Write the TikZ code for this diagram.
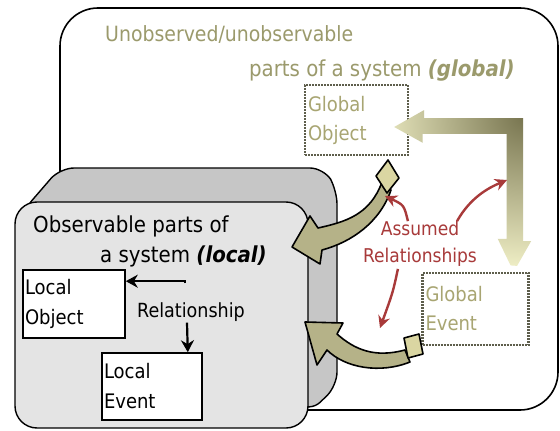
\documentclass[tikz,border=0pt]{standalone}
\usepackage{fontspec}
\setmainfont{DejaVuSansCondensed}[Extension=.ttf, BoldFont=*-Bold, ItalicFont=*-Oblique, BoldItalicFont=*-BoldOblique]
\usetikzlibrary{arrows.meta,calc}
\definecolor{backgray}{HTML}{C6C6C6}
\definecolor{frontgray}{HTML}{E4E4E4}
\definecolor{globtext}{HTML}{9B9A6C}
\definecolor{boxtext}{HTML}{A8A572}
\definecolor{dotgray}{HTML}{5E5E4C}
\definecolor{asmred}{HTML}{A83A3A}
\definecolor{arrowlight}{HTML}{EEEDC4}
\definecolor{arrowdark}{HTML}{77744F}
\definecolor{curvyfill}{HTML}{B5B288}
\definecolor{tailfill}{HTML}{DAD6A2}
\begin{document}
\begin{tikzpicture}[
        x=1pt, y=-1pt,
        % 外框與灰色方塊
        outerbox/.style={draw=black, line width=1.6pt, fill=white, rounded corners=38pt},
        backface/.style={draw=black, line width=1.4pt, fill=backgray, rounded corners=14pt},
        frontface/.style={draw=black, line width=1.4pt, fill=frontgray, rounded corners=22pt},
        % 方框樣式
        localbox/.style={
            draw=black,
            line width=1.6pt,
            fill=white,
            inner sep=2pt,
            align=left,
            font=\fontsize{20}{30}\selectfont
        },
        globalbox/.style={
            draw=dotgray,
            line width=2.4pt,
            dash pattern=on 2pt off 1pt,
            fill=white,
            text=boxtext,
            inner sep=3pt,
            align=left,
            font=\fontsize{20}{29}\selectfont
        },
        % 文字樣式
        bigtext/.style={anchor=base west, inner sep=0pt, font=\fontsize{22}{26}\selectfont},
        % 箭頭樣式
        relarrow/.style={draw=black, line width=2.2pt, -{Stealth[length=12pt,width=13pt]}},
        asmarrow/.style={draw=asmred, line width=2.4pt, -{Stealth[length=12pt,width=12pt]}},
        curvy/.style={draw=black, line width=1.6pt, fill=curvyfill, line join=round},
        curvytail/.style={draw=black, line width=1.6pt, fill=tailfill, line join=round}
    ]
    \useasboundingbox (0,0) rectangle (560,431);

    % --- 外框 (global) ---
    \draw[outerbox] (60,8) rectangle (558,410);
    \node[bigtext, text=globtext, font=\fontsize{21}{26}\selectfont] (title1) at (105,41) {Unobserved/unobservable};
    \node[bigtext, anchor=base east, text=globtext] (title2) at (515,76) {parts of a system \textbf{\textit{(global)}}};

    % --- 灰色方塊 (local) ---
    \draw[backface] (22,212) -- (60,168) -- (324,168) -- (337,190) -- (337,386) -- (310,412) -- cycle;
    \draw[frontface] (15,202) rectangle (308,428);
    \node[bigtext] (obs1) at (33,232) {Observable parts of};
    \node[bigtext, anchor=base east] (obs2) at (267,262) {a system \textbf{\textit{(local)}}};

    % --- 節點 ---
    \node[localbox, minimum width=102pt, minimum height=68pt, text width=98pt] (lobj) at (74,304) {Local\\Object};
    \node[localbox, minimum width=100pt, minimum height=67pt, text width=96pt] (levt) at (152,386.5) {Local\\Event};
    \node[globalbox, minimum width=103pt, minimum height=70pt, text width=97pt] (gobj) at (356.5,120) {Global\\Object};
    \node[globalbox, minimum width=106pt, minimum height=72pt, text width=100pt] (gevt) at (475.5,309) {Global\\Event};
    \node[font=\fontsize{19.5}{22}\selectfont, inner sep=0pt] (rel) at (191,312) {Relationship};
    \node[text=asmred, align=center, font=\fontsize{19}{27}\selectfont, inner sep=0pt] (asm) at (420,244) {Assumed\\Relationships};

    % --- 局部關係 ---
    \draw[relarrow] ($(rel.north)+(-6,-19)$) |- ($(lobj.north east)+(0,12)$);
    \draw[relarrow] ($(rel.south)+(-4,1)$) -- ($(levt.north east)+(-15,0)$);

    % --- 粗箭頭 (global object <-> global event) ---
    \coordinate (gtip1) at ($(gobj.east)+(-15,7)$);
    \coordinate (gtip2) at ($(gevt.north east)+(-16,0)$);
    \begin{scope}
        \clip (gtip1) -- ++(30,-17) -- ++(0,8) -- ++(99,0) -- ++(0,123) -- ++(8,0)
            -- (gtip2) -- ++(-16,-33) -- ++(9,0) -- ++(0,-105) -- ++(-84,0) -- ++(0,9) -- cycle;
        \shade[inner color=arrowdark, outer color=arrowlight] (524,116) circle (150);
    \end{scope}

    % --- 彎箭頭 ---
    \draw[curvy] (382,182) .. controls (370,215) and (345,222) .. (318,228) -- (310,216) -- (292,247)
        -- (320,264) -- (322,250) .. controls (352,242) and (380,222) .. (391,190) -- cycle;
    \draw[curvytail] (388,160) -- (399,178) -- (387,193) -- (376,176) -- cycle;
    \draw[curvy] (405,350) .. controls (375,358) and (355,350) .. (337,334) -- (343,323) -- (305,322)
        -- (317,365) -- (327,350) .. controls (345,368) and (380,374) .. (410,362) -- cycle;
    \draw[curvytail] (404,338) -- (419,334) -- (423,354) -- (408,358) -- cycle;

    % --- 假設的關係 ---
    \draw[asmarrow] ($(asm.north west)+(45,0)$) .. controls (404,205) .. (385,196);
    \draw[asmarrow] ($(asm.north east)+(-20,0)$) .. controls (470,198) and (488,188) .. (507,180);
    \draw[asmarrow] ($(asm.south west)+(35,2)$) .. controls (393,292) .. (380,328);
\end{tikzpicture}
\end{document}
